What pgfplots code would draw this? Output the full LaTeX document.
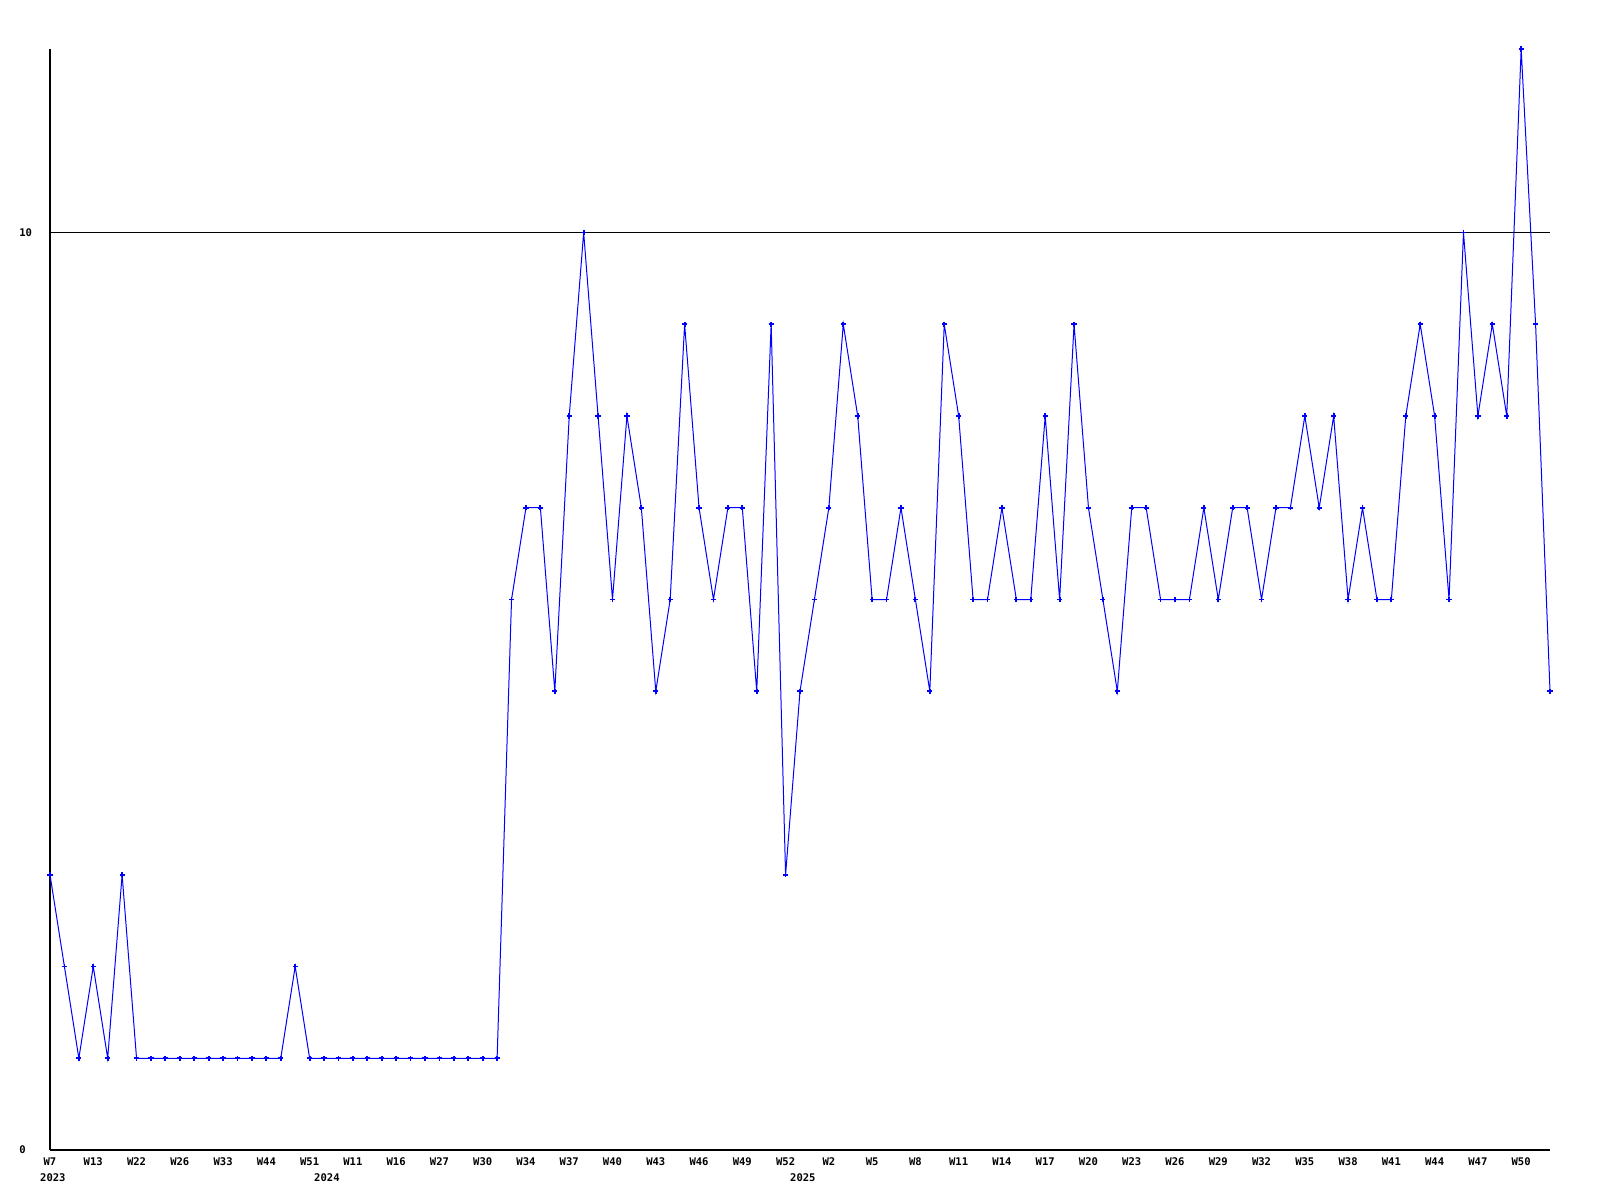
\documentclass[border=0pt]{standalone}
\usepackage{fontspec}
\setmainfont{DejaVu Sans Mono}
\usepackage{pgfplots}
\pgfplotsset{compat=1.18}
\definecolor{lineblue}{RGB}{0,0,255}

\pgfplotstableread{
x y
0 3
1 2
2 1
3 2
4 1
5 3
6 1
7 1
8 1
9 1
10 1
11 1
12 1
13 1
14 1
15 1
16 1
17 2
18 1
19 1
20 1
21 1
22 1
23 1
24 1
25 1
26 1
27 1
28 1
29 1
30 1
31 1
32 6
33 7
34 7
35 5
36 8
37 10
38 8
39 6
40 8
41 7
42 5
43 6
44 9
45 7
46 6
47 7
48 7
49 5
50 9
51 3
52 5
53 6
54 7
55 9
56 8
57 6
58 6
59 7
60 6
61 5
62 9
63 8
64 6
65 6
66 7
67 6
68 6
69 8
70 6
71 9
72 7
73 6
74 5
75 7
76 7
77 6
78 6
79 6
80 7
81 6
82 7
83 7
84 6
85 7
86 7
87 8
88 7
89 8
90 6
91 7
92 6
93 6
94 8
95 9
96 8
97 6
98 10
99 8
100 9
101 8
102 12
103 9
104 5
}\weekly

\begin{document}
\begin{tikzpicture}
\begin{axis}[
    scale only axis,
    width=375mm,
    height=275.25mm,
    xmin=0, xmax=104,
    ymin=0, ymax=12,
    axis lines*=left,
    axis line style={black, line width=0.3mm},
    clip=false,
    major tick length=0pt,
    ytick={0,10},
    ymajorgrids,
    grid style={black, line width=0.25mm},
    xtick={0,3,...,102},
    xticklabels={W7,W13,W22,W26,W33,W44,W51,W11,W16,W27,W30,W34,W37,W40,W43,W46,W49,W52,W2,W5,W8,W11,W14,W17,W20,W23,W26,W29,W32,W35,W38,W41,W44,W47,W50},
    extra x ticks={0.2,19.2,52.2},
    extra x tick labels={2023,2024,2025},
    extra x tick style={xticklabel style={yshift=-3.8mm}},
    tick label style={font=\fontsize{7.5}{9}\selectfont\bfseries, inner sep=0pt},
    xticklabel style={anchor=center, yshift=-3mm},
    yticklabel style={anchor=west, xshift=-7.75mm},
    /pgf/number format/assume math mode=true,
    ]
\addplot[lineblue, line width=0.25mm, mark=+, mark size=0.65mm,
    mark options={line width=0.45mm}] table[x=x, y=y] {\weekly};
\end{axis}
\path ([shift={(-12.5mm,-12.5mm)}]current axis.south west) rectangle ([shift={(12.5mm,12.25mm)}]current axis.north east);
\end{tikzpicture}
\end{document}
